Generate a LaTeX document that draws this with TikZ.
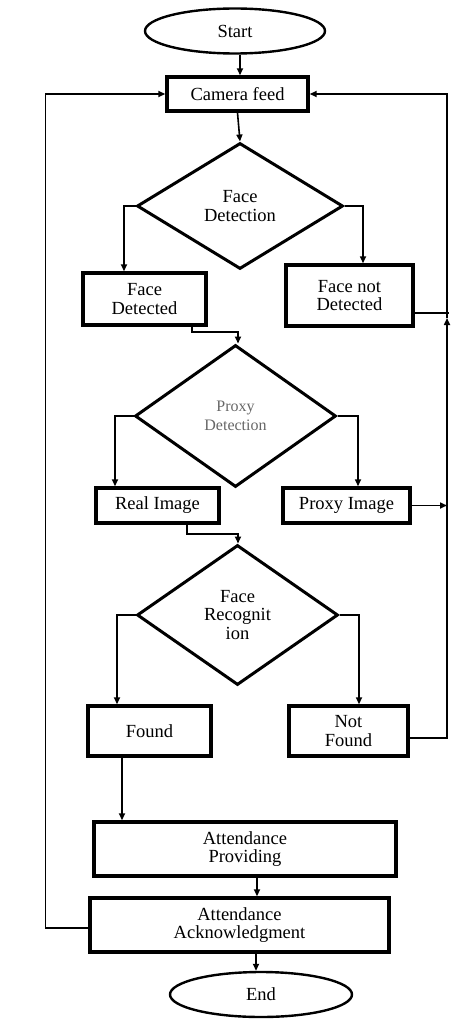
\documentclass[tikz,border=0pt]{standalone}
\usepackage{fontspec}
\setmainfont{Liberation Serif}
\usetikzlibrary{shapes.geometric,arrows.meta}
\begin{document}
\begin{tikzpicture}[x=1pt,y=-1pt,
  every node/.style={font=\fontsize{18.5}{18.5}\selectfont, align=center, inner sep=0pt},
  box/.style={draw, line width=3.4pt, rectangle},
  term/.style={draw, line width=2.4pt, ellipse},
  dec/.style={draw, line width=3pt, diamond, aspect=1.45},
  arr/.style={line width=1.6pt, -{Triangle[length=7pt,width=6pt]}},
  ln/.style={line width=1.6pt}]
\useasboundingbox (0,0) rectangle (471,1030);
\node[term, minimum width=180, minimum height=45] (start) at (235,31) {Start};
\node[box, minimum width=141, minimum height=34] (cam) at (237.5,94) {Camera feed};
\node[dec, minimum width=206, minimum height=126] (fdd) at (240,206) {Face\\Detection};
\node[box, minimum width=123, minimum height=52] (fded) at (144.5,299) {Face\\Detected};
\node[box, minimum width=127, minimum height=61] (fnd) at (349.5,295.5) {Face not\\Detected};
\node[dec, minimum width=201, minimum height=142, text=gray!80!black, font=\fontsize{16}{18.5}\selectfont] (pd) at (235.5,416) {Proxy\\Detection};
\node[box, minimum width=123, minimum height=35] (ri) at (157.5,505.5) {Real Image};
\node[box, minimum width=127, minimum height=35] (pi) at (346.5,505.5) {Proxy Image};
\node[dec, minimum width=201, minimum height=140] (fr) at (237.5,615) {Face\\Recognit\\ion};
\node[box, minimum width=123, minimum height=50] (found) at (149.5,731) {Found};
\node[box, minimum width=119, minimum height=50] (nf) at (348.5,731) {Not\\Found};
\node[box, minimum width=302, minimum height=54] (ap) at (245,849) {Attendance\\Providing};
\node[box, minimum width=299, minimum height=54] (ack) at (239.5,925) {Attendance\\Acknowledgment};
\node[term, minimum width=182, minimum height=45] (end) at (261,994.5) {End};
\coordinate (rb) at (447,738);
\coordinate (rm) at (447,318);
% main flow
\draw[arr] ([xshift=5pt]start.south) -- ([xshift=2.5pt]cam.north);
\draw[arr] (cam.south) -- (fdd.north);
\draw[arr] (fdd.west) -| ([xshift=-20.5pt]fded.north);
\draw[arr] (fdd.east) -| ([xshift=13.5pt]fnd.north);
\draw[arr] ([xshift=47.5pt]fded.south) -- ++(0,5) -| ([xshift=2.5pt]pd.north);
\draw[arr] (pd.west) -| ([xshift=-42.5pt]ri.north);
\draw[arr] (pd.east) -| ([xshift=11.5pt]pi.north);
\draw[arr] ([xshift=29.5pt]ri.south) -- ++(0,9) -| ([xshift=0.5pt]fr.north);
\draw[arr] (fr.west) -| ([xshift=-32.5pt]found.north);
\draw[arr] (fr.east) -| ([xshift=10.5pt]nf.north);
\draw[arr] ([xshift=-27.5pt]found.south) -- ([xshift=-27.5pt]found.south |- ap.north);
\draw[arr] ([xshift=12pt]ap.south) -- ([xshift=12pt]ap.south |- ack.north);
\draw[arr] ([xshift=16.5pt]ack.south) -- ([xshift=16.5pt]ack.south |- end.north);
% loops
\draw[arr] ([yshift=-3pt]ack.west) -- ++(-43,0) |- (cam.west);
\draw[arr] ([yshift=-7pt]nf.east) -| (rm);
\draw[arr] (rm) |- (cam.east);
\draw[ln] ([yshift=-17.5pt]fnd.east) -- ++(34,0);
\draw[arr] (pi.east) -- (pi.east -| rb);
\end{tikzpicture}
\end{document}
